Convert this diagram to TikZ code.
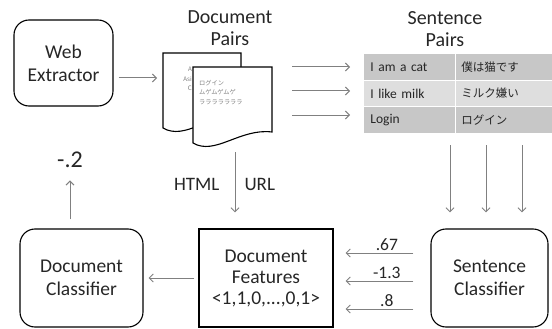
\documentclass[tikz,border=0pt]{standalone}
\usepackage{fontspec}
\setmainfont{Carlito}
\newfontfamily\jpfont{Noto Sans CJK JP}
\usetikzlibrary{arrows.meta, positioning}
\definecolor{rowdark}{gray}{0.78}
\definecolor{rowlight}{gray}{0.87}
\definecolor{linkgray}{gray}{0.5}

\begin{document}
\begin{tikzpicture}[
						x=1pt, y=-1pt,
						box/.style = {draw, line width=1.1pt, rounded corners=15pt, align=center, text=black!85, font=\fontsize{19.5}{23}\selectfont},
						featbox/.style = {draw, line width=1.1pt, align=center, text=black!85, font=\fontsize{19.5}{21}\selectfont},
						title/.style = {align=center, text=black!85, font=\fontsize{20}{22}\selectfont},
						lbl/.style = {text=black!85, font=\fontsize{19}{21}\selectfont},
						num/.style = {text=black!85, font=\fontsize{17.5}{19}\selectfont, inner sep=2pt},
						page/.style = {draw, line width=1.1pt, fill=white},
						pagetext/.style = {text=gray, font=\jpfont\fontsize{6.2}{9.5}\selectfont, align=left, inner sep=0pt},
						cell/.style = {rectangle, draw=white, line width=0.8pt, minimum height=26.7pt, align=left, inner ysep=0pt, anchor=north west, text=black!85},
						encell/.style = {cell, text width=78pt, inner xsep=7pt, font=\fontsize{13.5}{15}\selectfont},
						jpcell/.style = {cell, text width=85pt, inner xsep=6pt, font=\jpfont\fontsize{11.5}{13}\selectfont},
						link/.style = {draw=linkgray, line width=1pt, -{Straight Barb[length=4pt, width=8pt]}}
					]
\useasboundingbox (0,0) rectangle (552,329);

% boxes
\node[box, minimum width=99pt, minimum height=86pt] (web) at (63.5,63) {Web\\Extractor};
\node[box, minimum width=123pt, minimum height=98pt] (dcls) at (81.5,278) {Document\\Classifier};
\node[box, minimum width=117pt, minimum height=98pt] (scls) at (489.5,278) {Sentence\\Classifier};
\node[featbox, minimum width=134pt, minimum height=98pt] (feat) at (266,278) {Document\\Features\\<1,1,0,...,0,1>};

% titles
\node[title] (dpairs) at (230,28) {Document\\Pairs};
\node[title] (spairs) at (445,29) {Sentence\\Pairs};

% document pages
\draw[page] (163,53) -- (241,53) -- (241,117) .. controls (210,113) and (185,141) .. (163,128) -- cycle;
\node[pagetext, align=right, anchor=north east] (backtext) at (192,67) {A\\Asi\\C};
\draw[page] (193,67) -- (272,67) -- (272,132) .. controls (240,128) and (215,156) .. (193,143) -- cycle;
\node[pagetext, anchor=north west] (fronttext) at (199,80) {ログイン\\ムゲムゲムゲ\\ラララララララ};
\coordinate (backleft) at (163,78);
\coordinate (pagebot) at (235,152);

% sentence pairs table
\node[encell, fill=rowdark] (en1) at (363,53) {I am a cat};
\node[jpcell, fill=rowdark] (jp1) at (455,53) {僕は猫です};
\node[encell, fill=rowlight] (en2) at (363,79.7) {I like milk};
\node[jpcell, fill=rowlight] (jp2) at (455,79.7) {ミルク嫌い};
\node[encell, fill=rowdark] (en3) at (363,106.4) {Login};
\node[jpcell, fill=rowdark] (jp3) at (455,106.4) {ログイン};

\coordinate (s1) at (292,67);
\coordinate (s2) at (292,91);
\coordinate (s3) at (292,115);
\coordinate (d1) at (450,145);
\coordinate (d2) at (486,145);
\coordinate (d3) at (522,145);
\coordinate (n1) at (415,253);
\coordinate (n2) at (415,281);
\coordinate (n3) at (415,309);

\node[lbl, anchor=east] (html) at (223,184) {HTML};
\node[lbl, anchor=west] (url) at (241,184) {URL};
\node[lbl, font=\fontsize{24}{26}\selectfont] (score) at (70,160) {-.2};

% connectors
\draw[link, shorten <=5pt, shorten >=6pt] (web.east |- backleft) -- (backleft);
\draw[link, shorten >=13pt] (s1) -- (s1 -| en1.west);
\draw[link, shorten >=13pt] (s2) -- (s2 -| en2.west);
\draw[link, shorten >=13pt] (s3) -- (s3 -| en3.west);
\draw[link, shorten >=16pt] (d1) -- (d1 |- scls.north);
\draw[link, shorten >=16pt] (d2) -- (d2 |- scls.north);
\draw[link, shorten >=16pt] (d3) -- (d3 |- scls.north);
\draw[link, shorten >=16pt] (pagebot) -- (pagebot |- feat.north);
\draw[link, shorten <=17pt, shorten >=12pt] (n1 -| scls.west) -- (n1 -| feat.east) node[num, pos=0.45, above] {.67};
\draw[link, shorten <=17pt, shorten >=12pt] (n2 -| scls.west) -- (n2 -| feat.east) node[num, pos=0.45, above] {-1.3};
\draw[link, shorten <=17pt, shorten >=12pt] (n3 -| scls.west) -- (n3 -| feat.east) node[num, pos=0.45, above] {.8};
\draw[link, shorten <=4pt, shorten >=5pt] (feat.west) -- (dcls.east);
\draw[link, shorten <=9pt, shorten >=9pt] (score |- dcls.north) -- (score.south);
\end{tikzpicture}
\end{document}
